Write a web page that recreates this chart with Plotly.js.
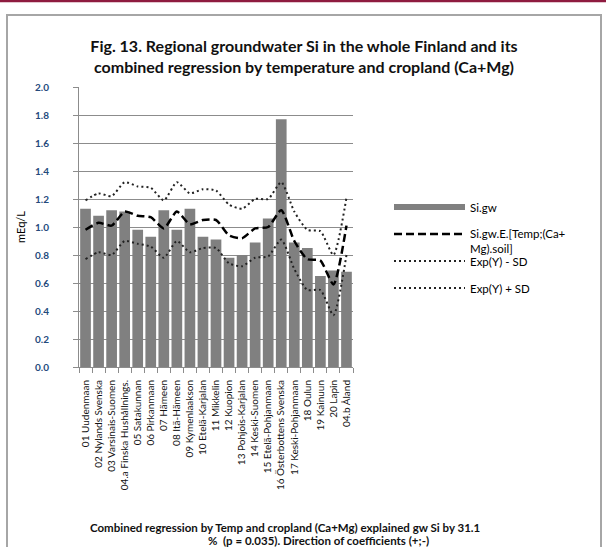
<!DOCTYPE html>
<html><head><meta charset="utf-8">
<script src="https://cdn.plot.ly/plotly-3.0.1.min.js"></script>
<style>html,body{margin:0;padding:0;background:#fff}#chart{width:606px;height:547px}</style>
</head><body><div id="chart"></div>
<script>
const regions = [
  '01 Uudenmaan','02 Nylands Svenska','03 Varsinais-Suomen','04.a Finska Hushållnings.',
  '05 Satakunnan','06 Pirkanmaan','07 Hämeen','08 Itä-Hämeen','09 Kymenlaakson',
  '10 Etelä-Karjalan','11 Mikkelin','12 Kuopion','13 Pohjois-Karjalan','14 Keski-Suomen',
  '15 Etelä-Pohjanmaan','16 Österbottens Svenska','17 Keski-Pohjanmaan','18 Oulun',
  '19 Kainuun','20 Lapin','04.b Åland'
];
const siGw       = [1.13,1.08,1.12,1.11,0.98,0.93,1.12,0.98,1.13,0.93,0.91,0.78,0.80,0.89,1.06,1.77,0.89,0.85,0.65,0.69,0.68];
const siGwE      = [0.98,1.03,1.01,1.11,1.08,1.07,0.99,1.11,1.02,1.05,1.05,0.94,0.92,0.99,1.00,1.12,0.90,0.77,0.76,0.59,1.01];
const expMinusSD = [0.77,0.82,0.80,0.90,0.88,0.86,0.78,0.90,0.82,0.85,0.85,0.74,0.72,0.78,0.79,0.91,0.70,0.55,0.55,0.37,0.80];
const expPlusSD  = [1.19,1.24,1.22,1.32,1.29,1.28,1.19,1.32,1.24,1.27,1.26,1.16,1.13,1.20,1.20,1.32,1.11,0.98,0.97,0.80,1.21];
const yTicks      = [0,0.2,0.4,0.6,0.8,1.0,1.2,1.4,1.6,1.8,2.0];
const yTickLabels = ['0.0','0.2','0.4','0.6','0.8','1.0','1.2','1.4','1.6','1.8','2.0'];
const seriesNames = ['Si.gw','Si.gw.E.[Temp;(Ca+<br>Mg).soil]','Exp(Y) - SD','Exp(Y) + SD'];
const titleLines  = ['Fig. 13. Regional groundwater Si in the whole Finland and its',
                     'combined regression by temperature and cropland (Ca+Mg)'];
const noteLines   = ['Combined regression by Temp and cropland (Ca+Mg) explained gw Si by 31.1',
                     '%  (p = 0.035). Direction of coefficients (+;-)'];

const FONT = 'Lato, "Open Sans", sans-serif';
const gridC = '#8c8c8c';

const traces = [
  {type:'bar', x:regions, y:siGw, name:seriesNames[0], marker:{color:'#808080'},
   legendgroup:'a', showlegend:false, hoverinfo:'skip'},
  {type:'scatter', mode:'lines', x:[null], y:[null], name:seriesNames[0], legendgroup:'a',
   legend:'legend', line:{color:'#808080', width:6}},
  {type:'scatter', mode:'lines', x:regions, y:siGwE, name:seriesNames[1], legendgroup:'b',
   legend:'legend', line:{color:'#000', width:2.5, dash:'8px,4px', shape:'spline', smoothing:0.6}},
  {type:'scatter', mode:'lines', x:regions, y:expMinusSD, name:seriesNames[2], legendgroup:'c',
   legend:'legend2', line:{color:'#222', width:2, dash:'2px,3px', shape:'spline', smoothing:0.6}},
  {type:'scatter', mode:'lines', x:regions, y:expPlusSD, name:seriesNames[3], legendgroup:'d',
   legend:'legend2', line:{color:'#222', width:2, dash:'2px,3px', shape:'spline', smoothing:0.6}}
];

const legendBase = {
  x:(389-79)/274, xanchor:'left', yanchor:'top',
  bgcolor:'rgba(0,0,0,0)', font:{size:11.5, color:'#000', family:FONT},
  traceorder:'grouped', tracegroupgap:8, valign:'top', itemwidth:71
};

const layout = {
  width:606, height:547,
  margin:{l:79, r:253, t:87, b:180},
  paper_bgcolor:'#fff', plot_bgcolor:'#fff',
  font:{family:FONT, color:'#000'},
  bargap:0.18,
  title:{
    text:titleLines.join('<br>'),
    font:{family:FONT, size:16, weight:700, color:'#111'},
    xref:'container', x:304/606, xanchor:'center',
    yref:'container', y:1-52/547, yanchor:'middle'
  },
  xaxis:{
    type:'category', tickson:'boundaries', ticks:'outside', ticklen:5, tickcolor:gridC,
    tickangle:-90, tickfont:{size:10, color:'#111'}, showline:true, linecolor:gridC,
    showgrid:false, ticklabelstandoff:8, fixedrange:true
  },
  yaxis:{
    range:[0,2], tickvals:yTicks, ticktext:yTickLabels, showgrid:true, gridcolor:gridC,
    gridwidth:1, zeroline:false, showline:true, linecolor:gridC, ticks:'outside', ticklen:5,
    tickcolor:gridC, tickfont:{size:10, color:'#244A7C', weight:700}, ticklabelstandoff:22,
    title:{text:'mEq/L', font:{size:11, color:'#000'}, standoff:7}, fixedrange:true
  },
  legend:Object.assign({}, legendBase, {y:(367-193)/280}),
  legend2:Object.assign({}, legendBase, {y:(367-247)/280}),
  annotations:[
    {text:noteLines[0], xref:'paper', yref:'paper', x:(285-79)/274, y:(367-527)/280,
     xanchor:'center', yanchor:'middle', showarrow:false, font:{size:11.5, weight:700, color:'#111'}},
    {text:noteLines[1], xref:'paper', yref:'paper', x:(318-79)/274, y:(367-540)/280,
     xanchor:'center', yanchor:'middle', showarrow:false, font:{size:11.5, weight:700, color:'#111'}}
  ],
  shapes:[
    {type:'rect', xref:'paper', yref:'paper', x0:(7-79)/274, x1:(601-79)/274,
     y0:(367-15)/280, y1:(367-600)/280, line:{color:'#a6a6a6', width:2}},
    {type:'line', xref:'paper', yref:'paper', x0:-0.4, x1:2.0, y0:(367-1)/280, y1:(367-1)/280,
     line:{color:'#8E1B3F', width:2.5}}
  ]
};

Plotly.newPlot('chart', traces, layout, {displayModeBar:false, staticPlot:true});
</script>
</body></html>
